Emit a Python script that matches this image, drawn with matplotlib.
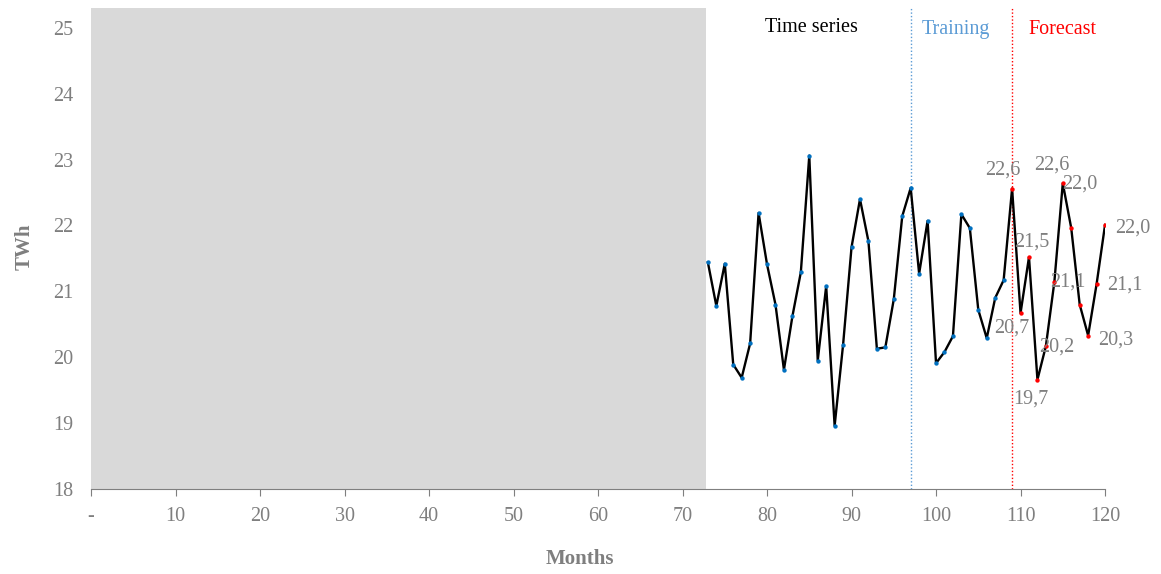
import matplotlib.pyplot as plt

plt.rcParams["font.family"] = ["Liberation Serif", "DejaVu Serif"]

# series values (month -> TWh)
months = list(range(73, 121))
twh = [21.44, 20.78, 21.42, 19.89, 19.69, 20.21, 22.19, 21.41, 20.80, 19.81,
       20.62, 21.29, 23.06, 19.95, 21.08, 18.96, 20.19, 21.67, 22.40, 21.76,
       20.13, 20.15, 20.88, 22.14, 22.57, 21.27, 22.07, 19.91, 20.08, 20.32,
       22.17, 21.96, 20.72, 20.29, 20.90, 21.17,
       22.56, 20.67, 21.52, 19.66, 20.17, 21.14, 22.64, 21.96, 20.80, 20.33,
       21.11, 22.01]
forecast_start = 109
training_start = 97
hidden_end = 72.75
forecast_labels = ["22,6", "20,7", "21,5", "19,7", "20,2", "21,1", "22,6",
                   "22,0", None, "20,3", "21,1", "22,0"]
label_offsets = [(-7, 13), (-6, -11), (2, 11), (-5, -14), (8, -1), (10, 0),
                 (-8, 13), (6, 32), None, (20, -3), (20, -1), (20, -2)]
xticks = list(range(0, 121, 10))
xtick_labels = ["-"] + [str(t) for t in xticks[1:]]
yticks = list(range(18, 26))

GREY = "#7f7f7f"
FS = 14.5

fig = plt.figure(figsize=(11.61, 5.74), dpi=100)
ax = fig.add_axes([0.0784, 0.148, 0.8734, 0.838])

ymin, ymax = 18, 25.3
ax.fill_between([0, hidden_end], ymin, ymax, color="#d9d9d9", lw=0, zorder=0)

ax.plot(months, twh, color="black", lw=1.7, zorder=2)
train_x = [m for m in months if m < forecast_start]
train_y = [v for m, v in zip(months, twh) if m < forecast_start]
fc_x = [m for m in months if m >= forecast_start]
fc_y = [v for m, v in zip(months, twh) if m >= forecast_start]
ax.scatter(train_x, train_y, s=10, color="#0070c0", zorder=3, lw=0)
ax.scatter(fc_x, fc_y, s=10, color="red", zorder=3, lw=0)

for x, y, lab, off in zip(fc_x, fc_y, forecast_labels, label_offsets):
    if lab is None:
        continue
    ax.annotate(lab, (x, y), xytext=off, textcoords="offset points",
                ha="center", va="center", fontsize=FS, color=GREY)

ax.axvline(training_start, color="#5b9bd5", ls=(0, (1, 1.5)), lw=1, zorder=1)
ax.axvline(forecast_start, color="red", ls=(0, (1, 1.5)), lw=1, zorder=1)

ax.text(85.2, 25.0, "Time series", ha="center", va="center", fontsize=FS, color="black")
ax.text(102.4, 24.98, "Training", ha="center", va="center", fontsize=FS, color="#5b9bd5")
ax.text(115.0, 24.98, "Forecast", ha="center", va="center", fontsize=FS, color="red")

ax.set_xlim(0, 120)
ax.set_ylim(ymin, ymax)
ax.set_xticks(xticks)
ax.set_xticklabels(xtick_labels)
ax.set_yticks(yticks)
ax.tick_params(axis="x", colors=GREY, labelsize=FS, length=5, pad=8, labelcolor=GREY)
ax.tick_params(axis="y", length=0, labelsize=FS, labelcolor=GREY, pad=13)

for side in ["top", "right", "left"]:
    ax.spines[side].set_visible(False)
ax.spines["bottom"].set_color(GREY)

ax.set_xlabel("Months", fontsize=15, color=GREY, fontweight="bold")
ax.set_ylabel("TWh", fontsize=15, color=GREY, fontweight="bold")
ax.xaxis.set_label_coords(0.482, -0.124)
ax.yaxis.set_label_coords(-0.056, 0.503)

fig.savefig("out.png", dpi=100)
